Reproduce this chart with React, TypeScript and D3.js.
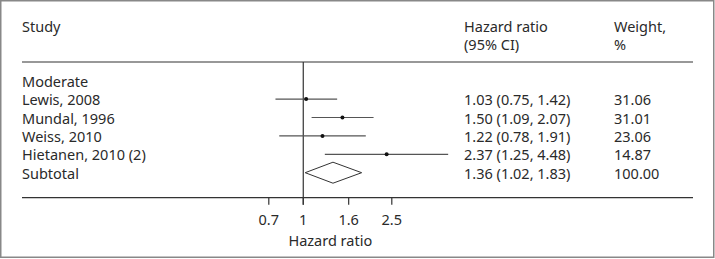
import React from "react";
import * as d3 from "d3";

const studies = ["Lewis, 2008", "Mundal, 1996", "Weiss, 2010", "Hietanen, 2010 (2)"];
const hr = [1.03, 1.5, 1.22, 2.37];
const lower = [0.75, 1.09, 0.78, 1.25];
const upper = [1.42, 2.07, 1.91, 4.48];
const weights = ["31.06", "31.01", "23.06", "14.87"];
const subtotal = { label: "Subtotal", hr: 1.36, lower: 1.02, upper: 1.83, weight: "100.00" };
const groupLabel = "Moderate";
const ticks = [0.7, 1, 1.6, 2.5];

const W = 715;
const H = 259;
const FONT = "'Noto Sans', 'Open Sans', sans-serif";
const TXT = "#2a2a2a";

export default function App() {
  const x = d3.scaleLog().domain([0.7, 2.5]).range([268.8, 391.8]);
  const rowY = (i: number) => 80.7 + i * 18.4;
  const fmt = (v: number) => v.toFixed(2);
  const ciText = (h: number, l: number, u: number) => `${fmt(h)} (${fmt(l)}, ${fmt(u)})`;
  const colStudy = 22;
  const colHR = 464;
  const colW = 614;
  const axisY = 197.7;
  const headerLineY = 62;
  const subY = rowY(studies.length + 1);
  const dh = 10.5;
  const dpath = `M${x(subtotal.lower)},${subY} L${x(subtotal.hr)},${subY - dh} L${x(subtotal.upper)},${subY} L${x(subtotal.hr)},${subY + dh} Z`;
  const fs = 14.5;
  const h1 = 25.8;
  const h2 = 44.2;
  return (
    <svg
      width={W}
      height={H}
      style={{ position: "fixed", left: 0, top: 0, background: "#fff" }}
      fontFamily={FONT}
      fontSize={fs}
    >
      <rect x={0.75} y={0.75} width={713} height={256.5} fill="#fff" stroke="#888" strokeWidth={1.5} />
      {/* headers */}
      <g fill={TXT} dominantBaseline="central">
        <text x={colStudy} y={h1}>Study</text>
        <text x={colHR} y={h1}>Hazard ratio</text>
        <text x={colHR} y={h2}>(95% CI)</text>
        <text x={colW} y={h1}>Weight,</text>
        <text x={colW} y={h2}>%</text>
      </g>
      <line x1={22} x2={693} y1={headerLineY} y2={headerLineY} stroke="#333" strokeWidth={1.2} />
      {/* rows */}
      <g fill={TXT} dominantBaseline="central">
        <text x={colStudy} y={rowY(0)}>{groupLabel}</text>
        {studies.map((s, i) => (
          <g key={s}>
            <text x={colStudy} y={rowY(i + 1)}>{s}</text>
            <text x={colHR} y={rowY(i + 1)}>{ciText(hr[i], lower[i], upper[i])}</text>
            <text x={colW} y={rowY(i + 1)}>{weights[i]}</text>
          </g>
        ))}
        <text x={colStudy} y={subY}>{subtotal.label}</text>
        <text x={colHR} y={subY}>{ciText(subtotal.hr, subtotal.lower, subtotal.upper)}</text>
        <text x={colW} y={subY}>{subtotal.weight}</text>
      </g>
      {/* reference line */}
      <line x1={x(1)} x2={x(1)} y1={headerLineY} y2={axisY + 7} stroke="#333" strokeWidth={1.2} />
      {/* CIs */}
      {studies.map((s, i) => (
        <g key={"ci" + s}>
          <line x1={x(lower[i])} x2={x(upper[i])} y1={rowY(i + 1)} y2={rowY(i + 1)} stroke="#555" strokeWidth={1.2} />
          <circle cx={x(hr[i])} cy={rowY(i + 1)} r={2} fill="#111" />
        </g>
      ))}
      <path d={dpath} fill="#fff" stroke="#333" strokeWidth={1} />
      {/* axis */}
      <line x1={22} x2={693} y1={axisY} y2={axisY} stroke="#333" strokeWidth={1.2} />
      {ticks.map((t) => (
        <g key={t}>
          <line x1={x(t)} x2={x(t)} y1={axisY} y2={axisY + 7} stroke="#333" strokeWidth={1.2} />
          <text x={x(t)} y={219} textAnchor="middle" dominantBaseline="central" fill={TXT}>
            {String(t)}
          </text>
        </g>
      ))}
      <text x={(x(0.7) + x(2.5)) / 2} y={240} textAnchor="middle" dominantBaseline="central" fill={TXT}>
        Hazard ratio
      </text>
    </svg>
  );
}
